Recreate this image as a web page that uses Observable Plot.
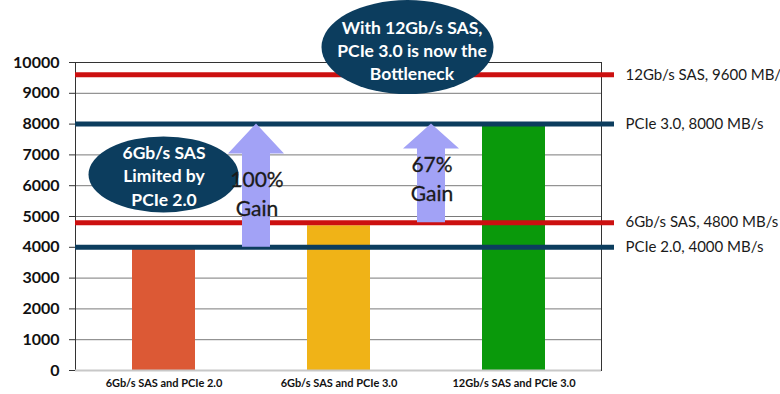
<!DOCTYPE html>
<html>
<head>
<meta charset="utf-8">
<script src="https://cdn.jsdelivr.net/npm/d3@7"></script>
<script src="https://cdn.jsdelivr.net/npm/@observablehq/plot@0.6"></script>
<style>
  html, body { margin: 0; padding: 0; background: #fff; }
  svg { overflow: visible; }
</style>
</head>
<body>
<div id="chart"></div>
<script>
const categories = ["6Gb/s SAS and PCIe 2.0", "6Gb/s SAS and PCIe 3.0", "12Gb/s SAS and PCIe 3.0"];
const values = [4000, 4700, 8000];
const barColors = ["#dc5935", "#f0b317", "#0a990b"];
const yTicks = [0, 1000, 2000, 3000, 4000, 5000, 6000, 7000, 8000, 9000, 10000];
const refValues = [9600, 8000, 4800, 4000];
const refLabels = ["12Gb/s SAS, 9600 MB/", "PCIe 3.0, 8000 MB/s", "6Gb/s SAS, 4800 MB/s", "PCIe 2.0, 4000 MB/s"];
const refColors = ["#cc1010", "#0c3d5e", "#cc1010", "#0c3d5e"];
const gainFrom = [4000, 4800];
const gainTo = [8000, 8000];
const gainLabels = ["100%\nGain", "67%\nGain"];
const gainLabelValues = [5780, 6270];
const noteTexts = ["6Gb/s SAS\nLimited by\nPCIe 2.0", "With 12Gb/s SAS,\nPCIe 3.0 is now the\nBottleneck"];
const noteValues = [6350, 10420];

const bars = categories.map((c, i) => ({cat: c, value: values[i], color: barColors[i]}));
const refs = refValues.map((v, i) => ({value: v, label: refLabels[i], color: refColors[i]}));

const navy = "#0c3d5e";
const font = "Lato, 'Open Sans', sans-serif";

function shapes(index, scales) {
  const x = scales.x, y = scales.y;
  const bw = x.bandwidth ? x.bandwidth() : 0;
  const cx = c => x(c) + bw / 2;
  const g = d3.create("svg:g");
  // gain arrows
  gainFrom.forEach((from, i) => {
    const xc = (cx(categories[i]) + cx(categories[i + 1])) / 2 + 5;
    const yb = y(from), yt = y(gainTo[i]);
    const sw = 14, hw = 28, hh = i === 0 ? 30 : 25;
    g.append("path")
      .attr("d", `M${xc - sw},${yb}V${yt + hh}H${xc - hw}L${xc},${yt}L${xc + hw},${yt + hh}H${xc + sw}V${yb}Z`)
      .attr("fill", "#a2a2f6");
  });
  // note ellipses
  g.append("ellipse")
    .attr("cx", cx(categories[0])).attr("cy", y(noteValues[0]))
    .attr("rx", 75).attr("ry", 38).attr("fill", navy);
  g.append("ellipse")
    .attr("cx", cx(categories[1]) + 69).attr("cy", y(noteValues[1]) - 2)
    .attr("rx", 86).attr("ry", 47).attr("fill", navy);
  return g.node();
}

const chart = Plot.plot({
  width: 780,
  height: 394,
  marginLeft: 75,
  marginRight: 179,
  marginTop: 62,
  marginBottom: 24,
  style: {fontFamily: font, background: "white", overflow: "visible"},
  x: {domain: categories, paddingInner: 0.64, paddingOuter: 0.32},
  y: {domain: [0, 10000], label: null},
  marks: [
    Plot.gridY(yTicks, {stroke: "#7a7a7a", strokeOpacity: 1}),
    Plot.barY(bars, {x: "cat", y: "value", fill: "color"}),
    Plot.frame({stroke: "#333", fill: "none"}),
    Plot.ruleY([0], {stroke: "#c8c8c8", strokeWidth: 2}),
    Plot.ruleY(refs, {y: "value", stroke: "color", strokeWidth: 5, insetRight: -13}),
    shapes,
    Plot.text(gainLabels, {
      x: (d, i) => categories[i], y: (d, i) => gainLabelValues[i],
      text: d => d, dx: 93,
      fontSize: 21, fill: "#1a1a1a", lineHeight: 1.38, stroke: "#1a1a1a", strokeWidth: 0.3
    }),
    Plot.text([noteTexts[0]], {
      x: () => categories[0], y: () => noteValues[0], text: d => d,
      fontSize: 17.5, fontWeight: "bold", fill: "white", lineHeight: 1.35
    }),
    Plot.text([noteTexts[1]], {
      x: () => categories[1], y: () => noteValues[1], text: d => d, dx: 73,
      fontSize: 17.5, fontWeight: "bold", fill: "white", lineHeight: 1.33
    }),
    Plot.text(refs, {
      y: "value", frameAnchor: "right", text: "label", textAnchor: "start",
      dx: 24, fontSize: 15, fill: "#1a1a1a"
    }),
    Plot.axisY(yTicks, {
      tickSize: 6, tickPadding: 10, tickFormat: d => String(d), label: null,
      fontSize: 16, fontWeight: "bold", fill: "#111", stroke: "#333"
    }),
    Plot.ruleX([0], {frameAnchor: "left", stroke: "#111"}),
    Plot.axisX({
      tickSize: 0, tickPadding: 9, fontSize: 11, fontWeight: "bold", fill: "#111", label: null
    })
  ]
});

document.getElementById("chart").appendChild(chart);
</script>
</body>
</html>
